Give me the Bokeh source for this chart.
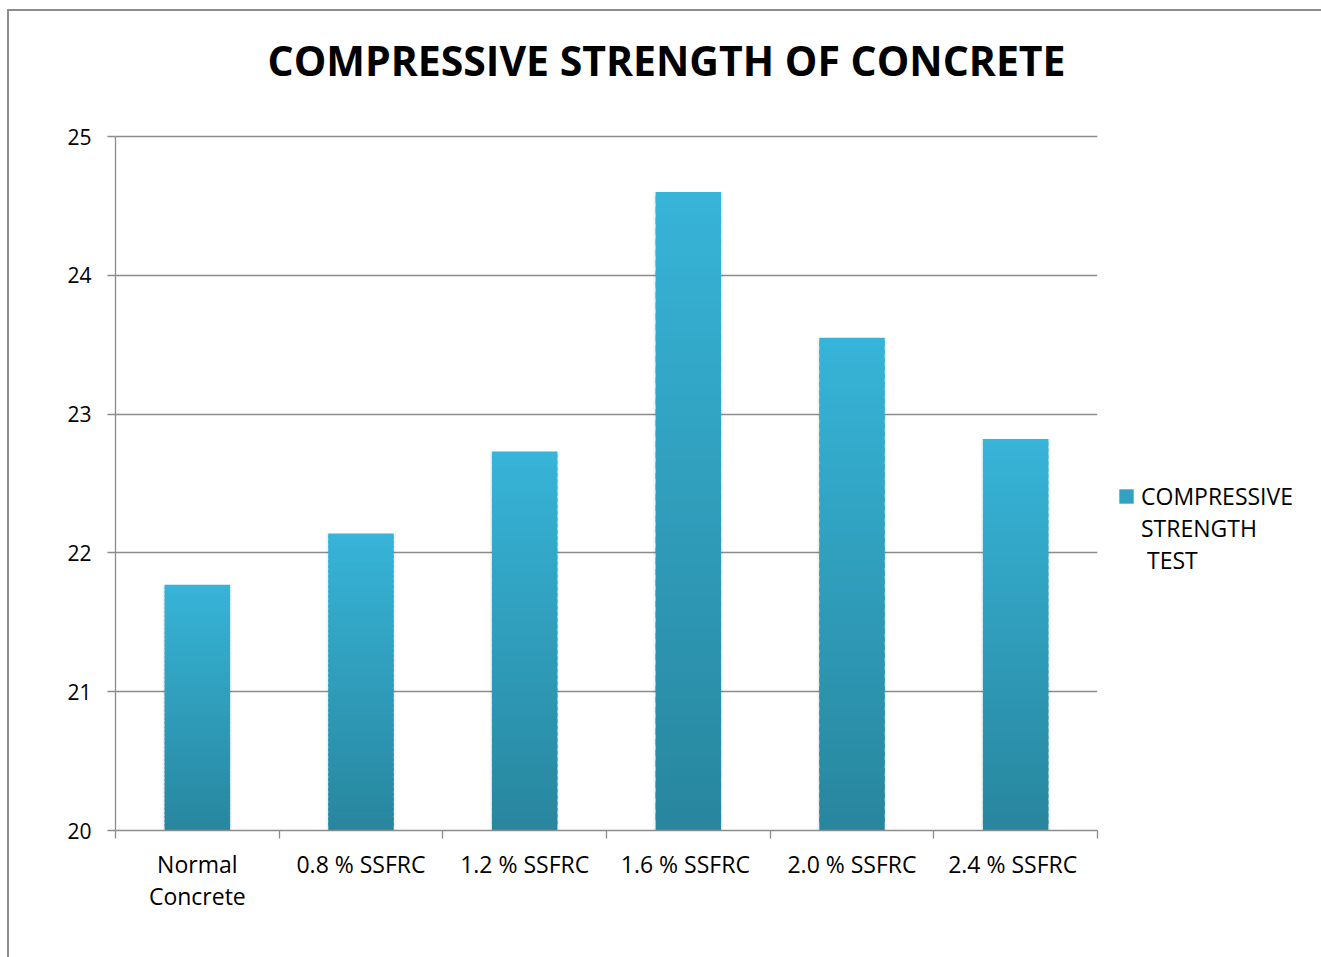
from bokeh.plotting import figure
from bokeh.models import FixedTicker, Range1d, ColumnDataSource, Legend, LegendItem
from bokeh.embed import file_html
from bokeh.resources import INLINE

# ---- data ----
categories = ["Normal\nConcrete", "0.8 % SSFRC", "1.2 % SSFRC", "1.6  % SSFRC", "2.0 % SSFRC", "2.4  % SSFRC"]
strength = [21.77, 22.14, 22.73, 24.60, 23.55, 22.82]
y_ticks = [20, 21, 22, 23, 24, 25]
title_text = "COMPRESSIVE STRENGTH OF CONCRETE"
legend_lines = ["COMPRESSIVE", "STRENGTH", " TEST"]

# ---- styling ----
FONT = "Open Sans"
GRID = "#8c8c8c"
DARK = (0x28, 0x86, 0x9e)
LIGHT = (0x37, 0xb4, 0xd8)
BAR_W = 0.40
N_SLICES = 60
Y0 = y_ticks[0]
PX_PER_UNIT = 694 / (y_ticks[-1] - y_ticks[0])
HEADROOM_PX = 28  # empty frame space above the top gridline (keeps the title high)


def mix(t):
    r = [round(DARK[i] + (LIGHT[i] - DARK[i]) * t) for i in range(3)]
    return "#%02x%02x%02x" % tuple(r)


# canvas is offset by the outer chart border (margin + 2px line)
p = figure(frame_width=982, frame_height=694 + HEADROOM_PX,
           x_range=Range1d(0, len(categories)),
           y_range=Range1d(y_ticks[0], y_ticks[-1] + HEADROOM_PX / PX_PER_UNIT),
           output_backend="svg", toolbar_location=None,
           min_border_left=106, min_border_right=224, min_border_top=125 - HEADROOM_PX,
           min_border_bottom=127)
p.margin = (9, 0, 0, 7)
p.styles = {"border-top": "2px solid #8c8c8c", "border-left": "2px solid #8c8c8c"}
p.outline_line_color = None
p.background_fill_color = "white"
p.border_fill_color = "white"

xs = [i + 0.5 for i in range(len(categories))]

# soft shadow behind bars
p.vbar(x=xs, top=strength, bottom=Y0, width=BAR_W + 0.025,
       fill_color="#000000", fill_alpha=0.05, line_color=None)

# gradient bars built from slices
sx, sb, st, sc = [], [], [], []
for x, v in zip(xs, strength):
    h = v - Y0
    for k in range(N_SLICES):
        b = Y0 + h * k / N_SLICES
        t = Y0 + h * (k + 1) / N_SLICES
        t = min(v, t + h / N_SLICES * 0.6)
        sx.append(x)
        sb.append(b)
        st.append(t)
        sc.append(mix((k + 0.5) / N_SLICES))
src = ColumnDataSource(dict(x=sx, bottom=sb, top=st, color=sc))
p.vbar(x="x", bottom="bottom", top="top", width=BAR_W, fill_color="color",
       line_color=None, source=src)

# legend proxies (zero-height bars: only their style is used by the legend)
proxy = p.vbar(x=[xs[0]], top=[Y0], bottom=Y0, width=BAR_W, fill_color=mix(0.6), line_color=None)
blank = p.vbar(x=[xs[0]], top=[Y0], bottom=Y0, width=BAR_W, fill_alpha=0, line_alpha=0)

# ---- axes ----
p.xgrid.visible = False
p.ygrid.ticker = FixedTicker(ticks=y_ticks)
p.ygrid.grid_line_color = GRID
p.ygrid.grid_line_width = 1.3
p.ygrid.level = "underlay"

ya = p.yaxis[0]
ya.ticker = FixedTicker(ticks=y_ticks)
ya.bounds = (y_ticks[0], y_ticks[-1])
ya.axis_line_color = GRID
ya.axis_line_width = 1.3
ya.major_tick_line_color = GRID
ya.major_tick_line_width = 1.3
ya.major_tick_out = 8
ya.major_tick_in = 0
ya.minor_tick_line_color = None
ya.major_label_text_font = FONT
ya.major_label_text_font_size = "21px"
ya.major_label_text_color = "black"
ya.major_label_standoff = 16

xa = p.xaxis[0]
xa.ticker = FixedTicker(ticks=xs, minor_ticks=list(range(len(categories) + 1)))
xa.major_label_overrides = {x: c for x, c in zip(xs, categories)}
xa.axis_line_color = GRID
xa.axis_line_width = 1.3
xa.major_tick_out = 0
xa.major_tick_in = 0
xa.major_tick_line_color = None
xa.minor_tick_line_color = GRID
xa.minor_tick_line_width = 1.3
xa.minor_tick_out = 8
xa.minor_tick_in = 0
xa.major_label_text_font = FONT
xa.major_label_text_font_size = "23px"
xa.major_label_text_color = "black"
xa.major_label_text_line_height = 1.0
xa.major_label_standoff = 9

# ---- title ----
p.title.text = title_text
p.title.text_font = FONT
p.title.text_font_style = "bold"
p.title.text_font_size = "41px"
p.title.text_color = "black"
p.title.align = "left"
p.title.offset = 152
p.title.vertical_align = "top"
p.title.standoff = 38

# ---- legend ----
items = [LegendItem(label=legend_lines[0], renderers=[proxy])]
items += [LegendItem(label=t, renderers=[blank]) for t in legend_lines[1:]]
legend = Legend(items=items, location=(20, 254), border_line_color=None, background_fill_alpha=0,
                label_text_font=FONT, label_text_font_size="23px", label_text_color="black",
                label_text_line_height=1.2, glyph_width=18, glyph_height=18,
                label_standoff=6, padding=0, margin=0, spacing=0)
p.add_layout(legend, "right")

open("out.html", "w").write(file_html(p, INLINE))
